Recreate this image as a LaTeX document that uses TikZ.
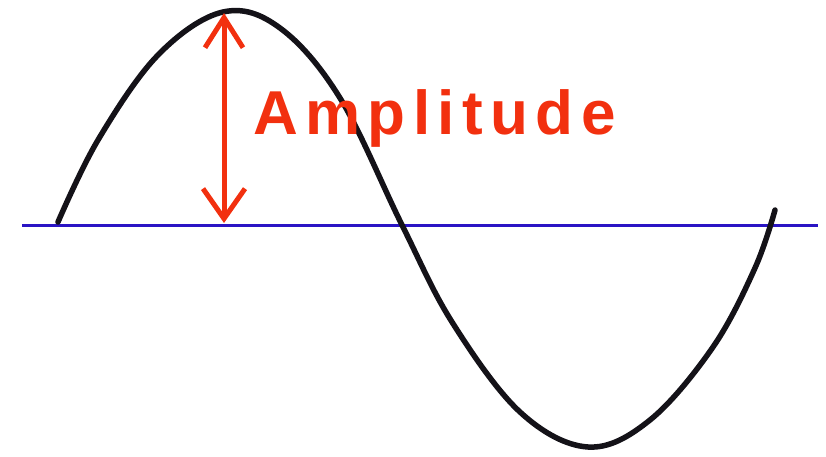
\documentclass[tikz,border=0pt]{standalone}
\usepackage{fontspec}
\setmainfont{Liberation Sans}
\usepackage{xcolor}
\usepackage{tikz}
\usetikzlibrary{arrows.meta,positioning,calc}
\definecolor{marker}{HTML}{F2300F}
\definecolor{axisblue}{HTML}{2A14C4}
\definecolor{ink}{HTML}{141218}

\begin{document}
\begin{tikzpicture}[
  x=1pt,y=-1pt,
  wave/.style={draw=ink,line width=5.5pt,line cap=round,line join=round},
  axisline/.style={draw=axisblue,line width=3pt},
  amparr/.style={{Straight Barb[length=30pt,width=38pt,line width=5pt]}-{Straight Barb[length=30pt,width=42pt,line width=5pt]},
              draw=marker,line width=5pt,shorten <=1pt,shorten >=1pt},
  lbl/.style={text=marker,font=\fontsize{62}{64}\selectfont\bfseries\addfontfeature{LetterSpace=12},
              inner sep=0pt,anchor=base west}]

  \useasboundingbox (0,0) rectangle (826,457);

  % zero line
  \coordinate (axl) at (22,225);
  \coordinate (axr) at (818,225);
  \draw[axisline] (axl) -- (axr);

  % one period, drawn by hand
  \draw[wave] plot[smooth,tension=0.6] coordinates {
    (58,222) (98,140) (158,55) (223,12) (280,28) (340,98) (402,225)
    (452,322) (520,412) (588,447) (650,420) (713,347) (755,268) (775,210)};

  % amplitude
  \coordinate (peak) at (224,12);
  \coordinate (base) at (224,224);
  \draw[amparr] (peak) -- (base);
  \node[lbl] (amp) at (253,135) {Amplitude};
\end{tikzpicture}
\end{document}
